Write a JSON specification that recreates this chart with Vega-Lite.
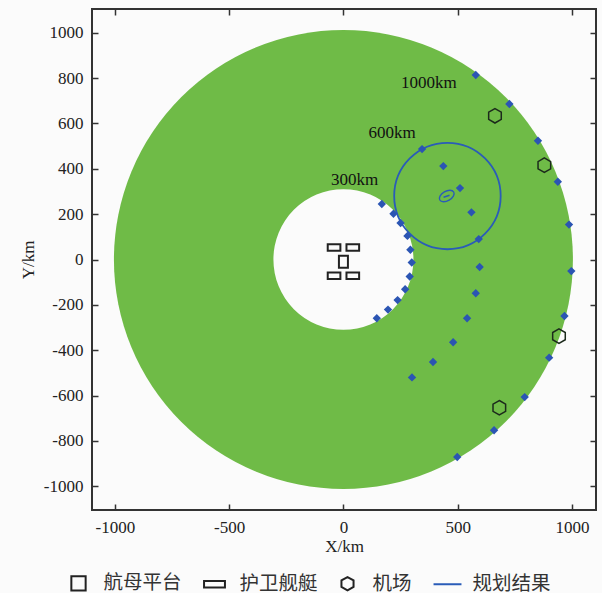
{
  "$schema": "https://vega.github.io/schema/vega-lite/v6.json",
  "width": 504,
  "height": 501,
  "autosize": {"type": "none"},
  "padding": {"left": 92, "top": 9, "right": 6, "bottom": 83},
  "background": "#fbfbfb",
  "config": {
    "view": {"stroke": "#333333", "strokeWidth": 2},
    "axis": {
      "labelFont": "Liberation Serif", "labelFontSize": 17, "labelFontWeight": "normal", "labelColor": "#222222",
      "titleFont": "Liberation Serif", "titleFontSize": 17, "titleFontWeight": "normal", "titleColor": "#222222",
      "tickColor": "#333333", "tickWidth": 1.5, "tickSize": -6, "domain": false, "grid": false
    }
  },
  "datasets": {
    "outer": [{"x": 0, "y": 0, "r": 1000}],
    "hole": [{"x": 0, "y": 0, "r": 305}],
    "plan": [{"x": 455, "y": 280, "r": 232}],
    "nodes": [
      {"x": 168, "y": 245}, {"x": 219, "y": 202}, {"x": 250, "y": 161}, {"x": 280, "y": 104}, {"x": 293, "y": 43},
      {"x": 299, "y": -13}, {"x": 290, "y": -75}, {"x": 270, "y": -131}, {"x": 237, "y": -179}, {"x": 195, "y": -221}, {"x": 146, "y": -259},
      {"x": 344, "y": 487}, {"x": 437, "y": 412}, {"x": 510, "y": 315}, {"x": 560, "y": 208}, {"x": 592, "y": 90},
      {"x": 596, "y": -33}, {"x": 579, "y": -149}, {"x": 541, "y": -259}, {"x": 480, "y": -365}, {"x": 392, "y": -452}, {"x": 300, "y": -520},
      {"x": 579, "y": 814}, {"x": 726, "y": 686}, {"x": 851, "y": 524}, {"x": 938, "y": 343}, {"x": 987, "y": 154},
      {"x": 997, "y": -51}, {"x": 967, "y": -249}, {"x": 900, "y": -433}, {"x": 793, "y": -607}, {"x": 659, "y": -753}, {"x": 498, "y": -871}
    ],
    "airports": [{"x": 663, "y": 634}, {"x": 879, "y": 416}, {"x": 943, "y": -338}, {"x": 682, "y": -654}],
    "escorts": [{"x": -41, "y": 53}, {"x": 41, "y": 53}, {"x": -41, "y": -72}, {"x": 41, "y": -72}],
    "carrier": [{"x": 0, "y": -10}],
    "target": [{"x": 452, "y": 280}],
    "labels": [
      {"x": 374, "y": 777, "label": "1000km"},
      {"x": 213, "y": 557, "label": "600km"},
      {"x": 49, "y": 351, "label": "300km"}
    ],
    "legend": [{"type": "航母平台"}, {"type": "护卫舰艇"}, {"type": "机场"}, {"type": "规划结果"}]
  },
  "encoding": {
    "x": {"field": "x", "type": "quantitative", "scale": {"domain": [-1100, 1105], "nice": false, "zero": false}, "axis": null},
    "y": {"field": "y", "type": "quantitative", "scale": {"domain": [-1105, 1105], "nice": false, "zero": false}, "axis": null}
  },
  "layer": [
    {
      "data": {"name": "outer"},
      "mark": {"type": "point", "shape": "circle", "filled": true, "color": "#6fbb47", "opacity": 1, "strokeWidth": 0},
      "encoding": {
        "x": {"field": "x", "type": "quantitative", "axis": {"orient": "bottom", "values": [-1000, -500, 0, 500, 1000], "title": "X/km", "labelPadding": 15, "titlePadding": 3, "labelExpr": "'' + datum.value"}},
        "y": {"field": "y", "type": "quantitative", "axis": {"orient": "left", "values": [-1000, -800, -600, -400, -200, 0, 200, 400, 600, 800, 1000], "title": "Y/km", "labelPadding": 15, "titlePadding": 6, "labelExpr": "'' + datum.value"}},
        "size": {"field": "r", "type": "quantitative", "scale": {"type": "pow", "exponent": 2, "domain": [0, 1000], "range": [0, 210681]}, "legend": null}
      }
    },
    {
      "data": {"name": "hole"},
      "mark": {"type": "point", "shape": "circle", "filled": true, "color": "#fbfbfb", "opacity": 1, "strokeWidth": 0},
      "encoding": {
        "x": {"field": "x", "type": "quantitative", "axis": {"orient": "top", "values": [-1000, -500, 0, 500, 1000], "labels": false, "title": null}},
        "y": {"field": "y", "type": "quantitative", "axis": {"orient": "right", "values": [-1000, -800, -600, -400, -200, 0, 200, 400, 600, 800, 1000], "labels": false, "title": null}},
        "size": {"field": "r", "type": "quantitative", "scale": {"type": "pow", "exponent": 2, "domain": [0, 1000], "range": [0, 210681]}, "legend": null}
      }
    },
    {
      "data": {"name": "plan"},
      "mark": {"type": "point", "shape": "circle", "filled": false, "color": "#2a5cb8", "opacity": 1, "strokeWidth": 1.8},
      "encoding": {
        "size": {"field": "r", "type": "quantitative", "scale": {"type": "pow", "exponent": 2, "domain": [0, 1000], "range": [0, 210681]}, "legend": null}
      }
    },
    {
      "data": {"name": "nodes"},
      "mark": {"type": "point", "shape": "diamond", "filled": true, "color": "#2b55b3", "opacity": 1, "size": 70, "strokeWidth": 0}
    },
    {
      "data": {"name": "airports"},
      "mark": {"type": "point", "shape": "M0,-1L0.87,-0.5L0.87,0.5L0,1L-0.87,0.5L-0.87,-0.5Z", "filled": false, "color": "#1c2a1c", "opacity": 1, "size": 210, "strokeWidth": 1.5}
    },
    {
      "data": {"name": "escorts"},
      "mark": {"type": "point", "shape": "M-1,-0.52H1V0.52H-1Z", "filled": false, "color": "#222222", "opacity": 1, "size": 160, "strokeWidth": 2}
    },
    {
      "data": {"name": "carrier"},
      "mark": {"type": "point", "shape": "M-0.75,-1H0.75V1H-0.75Z", "filled": false, "color": "#222222", "opacity": 1, "size": 144, "strokeWidth": 2}
    },
    {
      "data": {"name": "target"},
      "mark": {"type": "point", "shape": "M-0.87,0.5A1,0.6,-30,1,0,0.87,-0.5A1,0.6,-30,1,0,-0.87,0.5ZM-0.4,0.15L0.35,-0.1", "filled": false, "color": "#2a5cb8", "opacity": 1, "size": 256, "strokeWidth": 1.4}
    },
    {
      "data": {"name": "labels"},
      "mark": {"type": "text", "font": "Liberation Serif", "fontSize": 17, "color": "#111111", "align": "center", "baseline": "middle"},
      "encoding": {"text": {"field": "label", "type": "nominal"}}
    },
    {
      "data": {"name": "legend"},
      "mark": {"type": "point", "filled": false, "opacity": 1, "strokeWidth": 2},
      "encoding": {
        "shape": {
          "field": "type", "type": "nominal",
          "scale": {
            "domain": ["航母平台", "护卫舰艇", "机场", "规划结果"],
            "range": ["M-0.65,-0.65H0.65V0.65H-0.65Z", "M-0.95,-0.3H0.95V0.3H-0.95Z", "M0,-0.6L0.55,-0.3L0.55,0.3L0,0.6L-0.55,0.3L-0.55,-0.3Z", "M-1.27,0H1.27"]
          },
          "legend": {
            "title": null, "orient": "none", "legendX": -25.5, "legendY": 562, "direction": "horizontal", "columns": 4,
            "columnPadding": 17, "labelOffset": 13, "padding": 0, "symbolSize": 484, "symbolStrokeWidth": 2, "labelLimit": 400,
            "labelFont": "Noto Sans CJK SC", "labelFontSize": 19.5, "labelFontWeight": "normal", "labelColor": "#333333", "symbolFillColor": "transparent"
          }
        },
        "color": {
          "field": "type", "type": "nominal",
          "scale": {"domain": ["航母平台", "护卫舰艇", "机场", "规划结果"], "range": ["#222222", "#222222", "#222222", "#2a5cb8"]},
          "legend": {
            "title": null, "orient": "none", "legendX": -25.5, "legendY": 562, "direction": "horizontal", "columns": 4,
            "columnPadding": 17, "labelOffset": 13, "padding": 0, "symbolSize": 484, "symbolStrokeWidth": 2, "labelLimit": 400,
            "labelFont": "Noto Sans CJK SC", "labelFontSize": 19.5, "labelFontWeight": "normal", "labelColor": "#333333", "symbolFillColor": "transparent"
          }
        }
      }
    }
  ]
}
